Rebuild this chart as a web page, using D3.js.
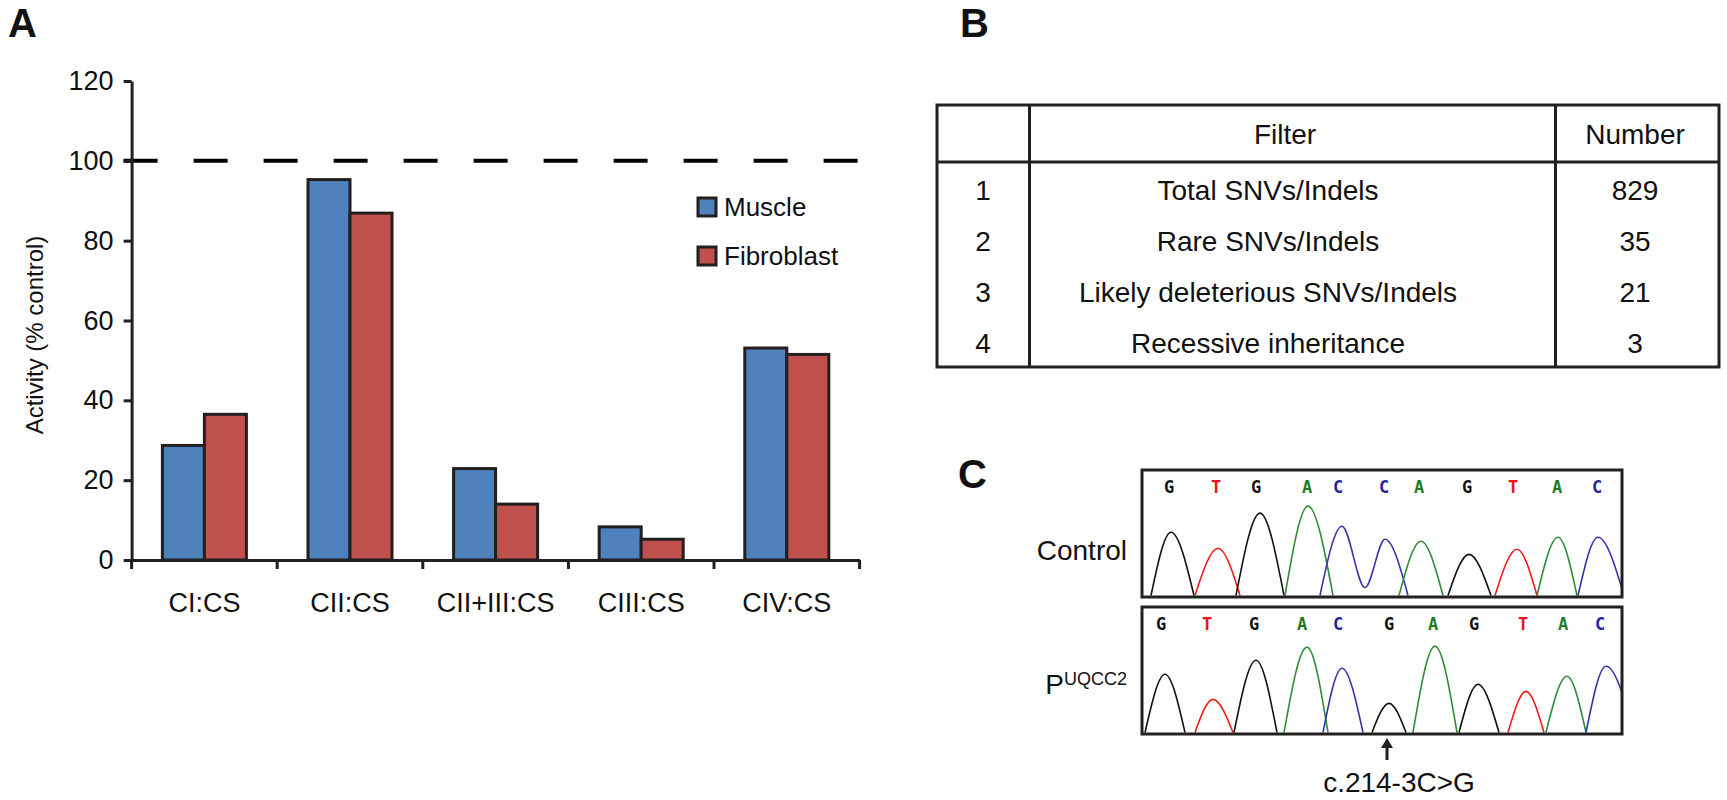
<!DOCTYPE html>
<html>
<head>
<meta charset="utf-8">
<script src="https://cdn.jsdelivr.net/npm/d3@7"></script>
<style>
  body { margin: 0; background: #fff; }
  text { font-family: "Liberation Sans", Arial, sans-serif; fill: #111; }
</style>
</head>
<body>
<div id="fig"></div>
<script>
// panel A - enzyme activities
var categories = ["CI:CS", "CII:CS", "CII+III:CS", "CIII:CS", "CIV:CS"];
var seriesNames = ["Muscle", "Fibroblast"];
var muscle = [28.7, 95.3, 22.9, 8.3, 53.1];
var fibroblast = [36.5, 86.9, 14.0, 5.2, 51.5];
var yTicks = [0, 20, 40, 60, 80, 100, 120];
var controlLevel = 100;
var seriesColors = ["#4f81bd", "#c0504d"];

// panel B - filtering table
var filterHeader = ["", "Filter", "Number"];
var filterSteps = [1, 2, 3, 4];
var filterNames = ["Total SNVs/Indels", "Rare SNVs/Indels", "Likely deleterious SNVs/Indels", "Recessive inheritance"];
var variantCounts = [829, 35, 21, 3];

// panel C - chromatograms (position in scan units, signal height)
var controlBases = ["G", "T", "G", "A", "C", "C", "A", "G", "T", "A", "C"];
var controlBasePos = [27, 74, 114, 165, 196, 242, 277, 325, 371, 415, 455];
var controlPeaks = [
  ["G", [[9, 0], [29, 63], [52, 0]]],
  ["T", [[53, 0], [76, 47], [98, 0]]],
  ["G", [[94, 0], [118, 82], [142, 0]]],
  ["A", [[143, 0], [166, 89], [191, 0]]],
  ["C", [[178, 0], [200, 69], [223, 8], [243, 56], [266, 0]]],
  ["A", [[257, 0], [279, 54], [301, 0]]],
  ["G", [[306, 0], [327, 41], [349, 0]]],
  ["T", [[353, 0], [375, 46], [395, 0]]],
  ["A", [[395, 0], [416, 58], [435, 0]]],
  ["C", [[436, 0], [456, 58], [482, 0]]]
];
var patientBases = ["G", "T", "G", "A", "C", "G", "A", "G", "T", "A", "C"];
var patientBasePos = [19, 65, 112, 160, 196, 247, 291, 332, 381, 421, 458];
var patientPeaks = [
  ["G", [[3, 0], [23, 58], [43, 0]]],
  ["T", [[53, 0], [71, 33], [91, 0]]],
  ["G", [[92, 0], [114, 72], [135, 0]]],
  ["A", [[142, 0], [165, 85], [186, 0]]],
  ["C", [[181, 0], [200, 64], [221, 0]]],
  ["G", [[230, 0], [247, 29], [264, 0]]],
  ["A", [[271, 0], [293, 86], [315, 0]]],
  ["G", [[317, 0], [336, 48], [357, 0]]],
  ["T", [[366, 0], [384, 41], [402, 0]]],
  ["A", [[404, 0], [425, 56], [444, 0]]],
  ["C", [[444, 0], [464, 66], [492, 0]]]
];
var mutationPos = 245;
var mutationLabel = "c.214-3C>G";
var baseText = { G: "#111111", T: "#e8141b", A: "#1f7a23", C: "#23239a" };
var baseLine = { G: "#111111", T: "#f01a1a", A: "#2e8c34", C: "#3434a8" };

var ink = "#231f20";
var svg = d3.select("#fig").append("svg")
  .attr("width", 1727)
  .attr("height", 800);

// panel letters
svg.append("text").attr("x", 8).attr("y", 37).text("A")
  .style("font-size", "40px").style("font-weight", "bold");
svg.append("text").attr("x", 960).attr("y", 37).text("B")
  .style("font-size", "40px").style("font-weight", "bold");
svg.append("text").attr("x", 958).attr("y", 488).text("C")
  .style("font-size", "40px").style("font-weight", "bold");

// ---------- A ----------
var plotLeft = 131.6, plotRight = 859.6;
var y = d3.scaleLinear().domain([0, 120]).range([560, 81]);

var x0 = d3.scaleBand()
  .domain(categories)
  .range([plotLeft, plotRight])
  .paddingInner(0.423)
  .paddingOuter(0.2115);
var x1 = d3.scaleBand()
  .domain(seriesNames)
  .range([0, x0.bandwidth()]);

var chart = svg.append("g");

var groups = chart.selectAll("g.grp")
  .data(categories)
  .enter().append("g")
  .attr("class", "grp")
  .attr("transform", function(d) { return "translate(" + x0(d) + ",0)"; });

groups.selectAll("rect")
  .data(function(d, i) { return [muscle[i], fibroblast[i]]; })
  .enter().append("rect")
  .attr("x", function(d, j) { return x1(seriesNames[j]); })
  .attr("y", function(d) { return y(d); })
  .attr("width", x1.bandwidth())
  .attr("height", function(d) { return y(0) - y(d); })
  .attr("fill", function(d, j) { return seriesColors[j]; })
  .attr("stroke", ink)
  .attr("stroke-width", 3);

// 100% control line
chart.append("line")
  .attr("x1", plotLeft - 8).attr("x2", plotRight)
  .attr("y1", y(controlLevel)).attr("y2", y(controlLevel))
  .attr("stroke", "#000")
  .attr("stroke-width", 4)
  .attr("stroke-dasharray", "34,36");

var yAxis = chart.append("g")
  .attr("transform", "translate(" + plotLeft + ",0)")
  .call(d3.axisLeft(y).tickValues(yTicks).tickSize(8).tickSizeOuter(0).tickPadding(10));

var xAxis = chart.append("g")
  .attr("transform", "translate(0," + y(0) + ")")
  .call(d3.axisBottom(x0).tickSize(0).tickSizeOuter(0).tickPadding(33));

// category boundary ticks
var bounds = d3.range(categories.length + 1).map(function(k) { return plotLeft + k * x0.step(); });
xAxis.selectAll("line.bound")
  .data(bounds)
  .enter().append("line")
  .attr("class", "bound")
  .attr("x1", function(d) { return d; }).attr("x2", function(d) { return d; })
  .attr("y1", 0).attr("y2", 9)
  .attr("stroke", ink).attr("stroke-width", 3);

[yAxis, xAxis].forEach(function(ax) {
  ax.select(".domain").attr("stroke", ink).attr("stroke-width", 3);
  ax.selectAll(".tick line").attr("stroke", ink).attr("stroke-width", 3);
  ax.selectAll("text").style("font-size", "27px").attr("fill", "#111")
    .style("font-family", "'Liberation Sans', Arial, sans-serif");
});

chart.append("text")
  .attr("transform", "translate(43,335) rotate(-90)")
  .attr("text-anchor", "middle")
  .style("font-size", "24px")
  .text("Activity (% control)");

var legend = chart.selectAll("g.leg")
  .data(seriesNames)
  .enter().append("g")
  .attr("class", "leg")
  .attr("transform", function(d, i) { return "translate(698," + (198 + i * 49) + ")"; });
legend.append("rect")
  .attr("width", 18).attr("height", 18)
  .attr("fill", function(d, i) { return seriesColors[i]; })
  .attr("stroke", ink).attr("stroke-width", 3);
legend.append("text")
  .attr("x", 26).attr("y", 18)
  .style("font-size", "26px")
  .text(function(d) { return d; });

// ---------- B ----------
var colEdges = [937, 1029.5, 1555.5, 1719];
var rowEdges = [105, 162, 213, 264, 315, 367];
var table = svg.append("g");

table.append("rect")
  .attr("x", colEdges[0]).attr("y", rowEdges[0])
  .attr("width", colEdges[3] - colEdges[0])
  .attr("height", rowEdges[5] - rowEdges[0])
  .attr("fill", "none").attr("stroke", ink).attr("stroke-width", 3);
table.selectAll("line.col")
  .data([colEdges[1], colEdges[2]])
  .enter().append("line")
  .attr("x1", function(d) { return d; }).attr("x2", function(d) { return d; })
  .attr("y1", rowEdges[0]).attr("y2", rowEdges[5])
  .attr("stroke", ink).attr("stroke-width", 3);
table.append("line")
  .attr("x1", colEdges[0]).attr("x2", colEdges[3])
  .attr("y1", rowEdges[1]).attr("y2", rowEdges[1])
  .attr("stroke", ink).attr("stroke-width", 3);

var colCenters = [983, 1268, 1635];
table.selectAll("text.head")
  .data(filterHeader)
  .enter().append("text")
  .attr("x", function(d, i) { return i == 1 ? 1285 : colCenters[i]; })
  .attr("y", (rowEdges[0] + rowEdges[1]) / 2 + 10)
  .attr("text-anchor", "middle")
  .style("font-size", "28px")
  .text(function(d) { return d; });

var rows = table.selectAll("g.row")
  .data(filterSteps)
  .enter().append("g")
  .attr("class", "row")
  .attr("transform", function(d, i) { return "translate(0," + ((rowEdges[i + 1] + rowEdges[i + 2]) / 2 + 12) + ")"; });
rows.selectAll("text")
  .data(function(d, i) { return [d, filterNames[i], variantCounts[i]]; })
  .enter().append("text")
  .attr("x", function(d, j) { return colCenters[j]; })
  .attr("text-anchor", "middle")
  .style("font-size", "28px")
  .text(function(d) { return d; });

// ---------- C ----------
var traceX = d3.scaleLinear().domain([0, 480]).range([1142, 1622]);
var boxes = [
  { name: "Control", top: 470, base: 596, bases: controlBases, pos: controlBasePos, peaks: controlPeaks },
  { name: "P", top: 607, base: 733, bases: patientBases, pos: patientBasePos, peaks: patientPeaks }
];

var defs = svg.append("defs");
boxes.forEach(function(b, k) {
  var yc = d3.scaleLinear().domain([0, 125]).range([b.base - 0.5, b.top]);
  var g = svg.append("g");

  defs.append("clipPath").attr("id", "clip" + k)
    .append("rect")
    .attr("x", traceX(0)).attr("y", b.top)
    .attr("width", traceX(480) - traceX(0)).attr("height", b.base - b.top);

  var line = d3.line()
    .x(function(d) { return traceX(d[0]); })
    .y(function(d) { return yc(d[1]); })
    .curve(d3.curveMonotoneX);

  g.append("g").attr("clip-path", "url(#clip" + k + ")")
    .selectAll("path")
    .data(b.peaks)
    .enter().append("path")
    .attr("d", function(d) { return line(d[1]); })
    .attr("fill", "none")
    .attr("stroke", function(d) { return baseLine[d[0]]; })
    .attr("stroke-width", 1.6);

  g.selectAll("text.base")
    .data(b.bases)
    .enter().append("text")
    .attr("class", "base")
    .attr("x", function(d, i) { return traceX(b.pos[i]); })
    .attr("y", b.top + 23)
    .attr("text-anchor", "middle")
    .style("font-family", "'DejaVu Sans Mono', monospace")
    .style("font-weight", "bold")
    .style("font-size", "17px")
    .style("fill", function(d) { return baseText[d]; })
    .text(function(d) { return d; });

  g.append("rect")
    .attr("x", traceX(0)).attr("y", b.top)
    .attr("width", traceX(480) - traceX(0)).attr("height", b.base + 1 - b.top)
    .attr("fill", "none").attr("stroke", ink).attr("stroke-width", 3);
});

svg.append("text")
  .attr("x", 1127).attr("y", 560)
  .attr("text-anchor", "end")
  .style("font-size", "28px")
  .text("Control");

var pLabel = svg.append("text")
  .attr("x", 1127).attr("y", 694)
  .attr("text-anchor", "end")
  .style("font-size", "28px");
pLabel.append("tspan").text("P");
pLabel.append("tspan").attr("dy", -9).style("font-size", "18px").text("UQCC2");

// mutation arrow
var ax = traceX(mutationPos);
svg.append("line")
  .attr("x1", ax).attr("x2", ax)
  .attr("y1", 742).attr("y2", 760)
  .attr("stroke", ink).attr("stroke-width", 3);
svg.append("path")
  .attr("d", "M" + (ax - 6) + ",748 L" + ax + ",738 L" + (ax + 6) + ",748 Z")
  .attr("fill", ink);
svg.append("text")
  .attr("x", ax + 12).attr("y", 792)
  .attr("text-anchor", "middle")
  .style("font-size", "28px")
  .text(mutationLabel);
</script>
</body>
</html>
